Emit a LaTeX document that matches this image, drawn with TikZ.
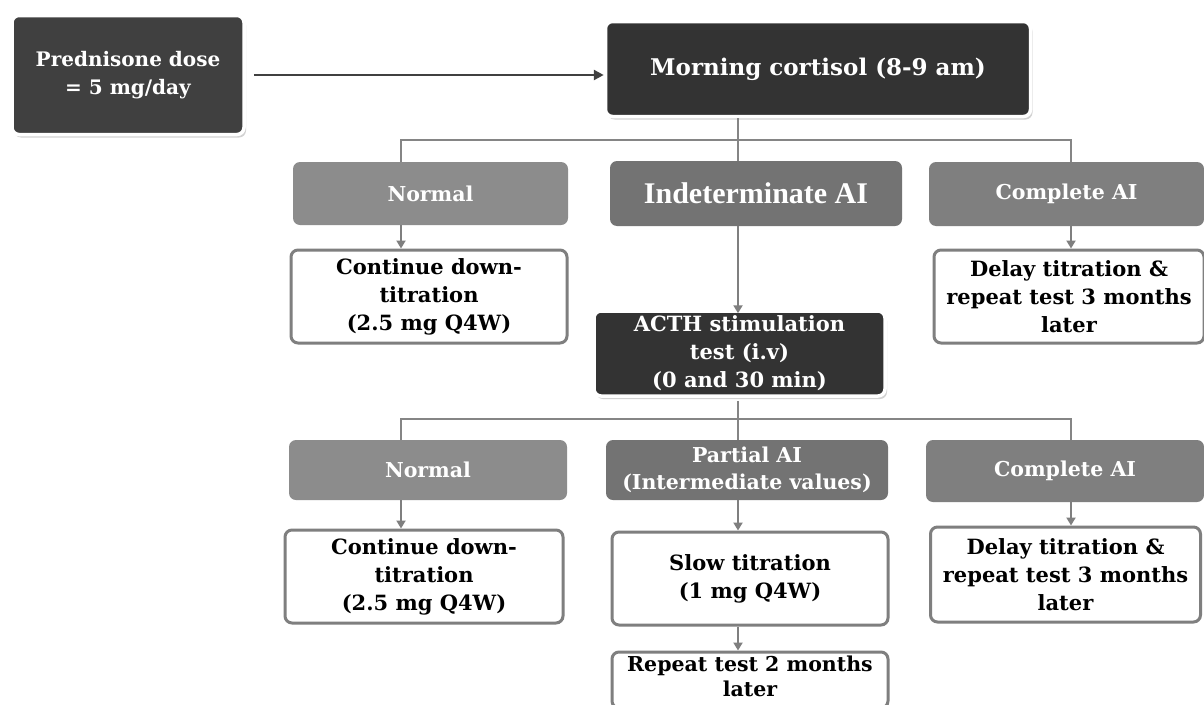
\documentclass[tikz,border=0pt]{standalone}
\usepackage{fontspec}
\setmainfont{DejaVu Serif}
\newfontfamily\timesfont{Liberation Serif}
\usetikzlibrary{arrows.meta,shadows}
\definecolor{darkA}{HTML}{404040}
\definecolor{darkB}{HTML}{333333}
\definecolor{grayA}{HTML}{8C8C8C}
\definecolor{grayB}{HTML}{737373}
\definecolor{grayC}{HTML}{7F7F7F}
\definecolor{lineC}{HTML}{858585}
\begin{document}
\begin{tikzpicture}[x=1pt,y=-1pt,
  base/.style={rounded corners=7pt, align=center, inner sep=1pt, font=\bfseries\fontsize{21}{28}\selectfont},
  darkbox/.style={base, fill=#1, draw=white, line width=3.5pt, text=white,
     drop shadow={opacity=0.35, shadow xshift=2pt, shadow yshift=-3pt}},
  graybox/.style={base, fill=#1, draw=none, text=white, font=\bfseries\fontsize{20.5}{27}\selectfont},
  whitebox/.style={base, fill=white, draw=grayC, line width=3pt, text=black},
  conn/.style={draw=lineC, line width=2pt},
  arr/.style={draw=grayC, line width=2.2pt, -{Triangle[width=9pt,length=8pt]}},
]
\useasboundingbox (0,0) rectangle (1204,704);
\fill[white] (0,0) rectangle (1204,704);

% top row
\node[darkbox=darkA, minimum width=232pt, minimum height=119pt, font=\bfseries\fontsize{20}{28}\selectfont] (pred) at (128,75) {Prednisone dose\\= 5 mg/day};
\node[darkbox=darkB, minimum width=425pt, minimum height=95pt, font=\bfseries\fontsize{23}{28}\selectfont] (morn) at (818,69) {Morning cortisol (8-9 am)};

% second row
\node[graybox=grayA, minimum width=275pt, minimum height=63pt] (n1) at (430.5,193.5) {Normal};
\node[graybox=grayB, minimum width=292pt, minimum height=65pt, font=\timesfont\bfseries\fontsize{30}{30}\selectfont] (ind) at (756,193.5) {Indeterminate AI};
\node[graybox=grayC, minimum width=275pt, minimum height=64pt] (c1) at (1066.5,194) {Complete AI};

% third row
\node[whitebox, minimum width=276pt, minimum height=93pt] (cont1) at (429,296.5) {Continue down-\\titration\\(2.5 mg Q4W)};
\node[darkbox=darkB, minimum width=291pt, minimum height=85pt] (acth) at (739.5,353.5) {ACTH stimulation\\test (i.v)\\(0 and 30 min)};
\node[whitebox, minimum width=270pt, minimum height=93pt] (delay1) at (1069,296.5) {Delay titration \&\\repeat test 3 months\\later};

% fourth row
\node[graybox=grayA, minimum width=278pt, minimum height=60pt] (n2) at (428,470) {Normal};
\node[graybox=grayB, minimum width=282pt, minimum height=60pt] (part) at (747,470) {Partial AI\\(Intermediate values)};
\node[graybox=grayC, minimum width=278pt, minimum height=62pt] (c2) at (1065,471) {Complete AI};

% fifth row
\node[whitebox, minimum width=278pt, minimum height=93pt] (cont2) at (424,576.5) {Continue down-\\titration\\(2.5 mg Q4W)};
\node[whitebox, minimum width=276pt, minimum height=93pt] (slow) at (750,578.5) {Slow titration\\(1 mg Q4W)};
\node[whitebox, minimum width=270pt, minimum height=95pt] (delay2) at (1065.5,574.5) {Delay titration \&\\repeat test 3 months\\later};
\node[whitebox, minimum width=276pt, minimum height=56pt] (rep) at (750,680) {};
\node[font=\bfseries\fontsize{20.5}{25}\selectfont, align=center, inner sep=0pt, anchor=north] (reptext) at (750,656) {Repeat test 2 months\\later};

% column coordinates
\coordinate (xa) at (401,0);
\coordinate (xb) at (738,0);
\coordinate (xc) at (1071,0);
\coordinate (y1) at (0,140);
\coordinate (y2) at (0,419);

% main arrow
\draw[draw=darkA, line width=2.5pt, -{Triangle[width=10pt,length=10pt]}] (pred.east) ++(8pt,0) coordinate (pe) (pe) -- (morn.west |- pe);

% tree 1
\draw[conn] (morn.south -| xb) -- (xb |- y1);
\draw[conn] (n1.north -| xa) -- (xa |- y1) -- (xc |- y1) -- (c1.north -| xc);
\draw[conn] (xb |- y1) -- (ind.north -| xb);

\draw[arr] (n1.south -| xa) -- (cont1.north -| xa);
\draw[arr, line width=2.6pt] (ind.south -| xb) -- ([yshift=-4pt]acth.north -| xb);
\draw[arr] (c1.south -| xc) -- (delay1.north -| xc);

% tree 2
\draw[conn] ([yshift=-3pt]acth.south -| xb) -- (xb |- y2);
\draw[conn] (n2.north -| xa) -- (xa |- y2) -- (xc |- y2) -- (c2.north -| xc);
\draw[conn] (xb |- y2) -- (part.north -| xb);

\draw[arr] (n2.south -| xa) -- (cont2.north -| xa);
\draw[arr] (part.south -| xb) -- (slow.north -| xb);
\draw[arr] (c2.south -| xc) -- (delay2.north -| xc);
\draw[arr] (slow.south -| xb) -- (rep.north -| xb);
\end{tikzpicture}
\end{document}
